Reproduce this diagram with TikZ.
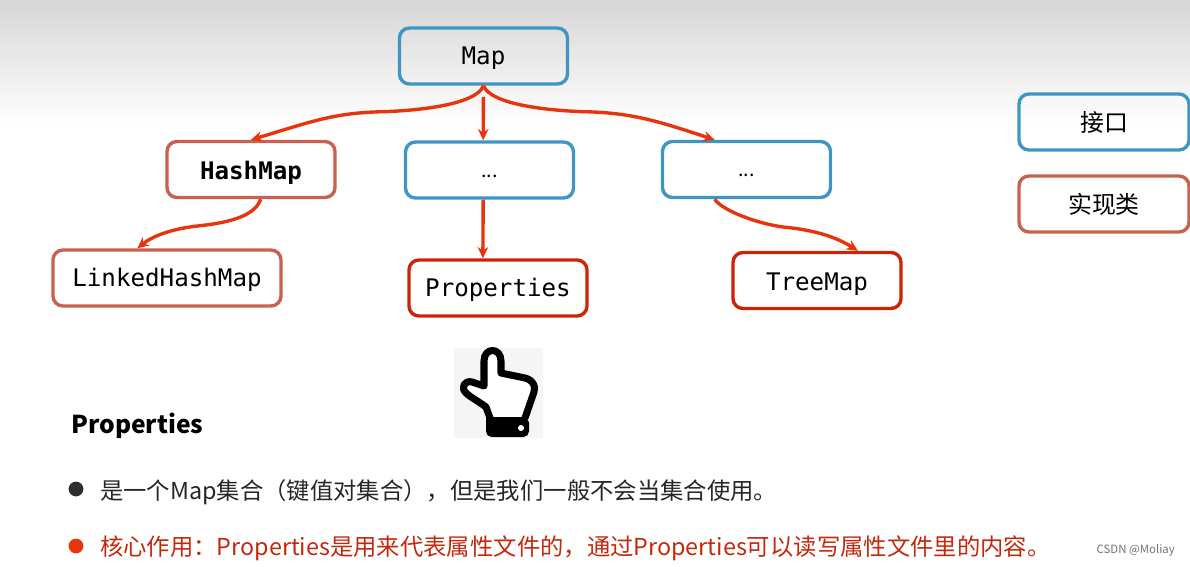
\documentclass[tikz,border=0pt]{standalone}
\usepackage{fontspec}
\setmainfont{Noto Sans CJK SC}
\setmonofont{DejaVu Sans Mono}
\usetikzlibrary{positioning,arrows.meta,calc}
\definecolor{iface}{HTML}{3F95C4}
\definecolor{impl}{HTML}{C8624E}
\definecolor{focus}{HTML}{CC2408}
\definecolor{link}{HTML}{E8340C}
\definecolor{bodyred}{HTML}{C4280C}
\tikzset{
  box/.style={rounded corners=0.25cm, line width=2.4pt, minimum height=1.4cm, align=center, inner sep=0pt},
  ifacebox/.style={box, draw=iface},
  implbox/.style={box, draw=impl},
  focusbox/.style={box, draw=focus},
  code/.style={font=\ttfamily\fontsize{17.2}{20}\selectfont, text height=12pt, text depth=0pt},
  dotstext/.style={font=\fontsize{14}{20}\selectfont, text height=10pt, text depth=0pt},
  legendtext/.style={font=\fontsize{17}{20}\selectfont},
  bodytext/.style={anchor=west, inner sep=0pt, font=\fontsize{16.6}{20}\selectfont},
  bullet/.style={circle, inner sep=0pt, minimum size=0.37cm},
  link/.style={draw=link, line width=2.4pt, -{Stealth[length=8pt,width=7.5pt]}},
}
\begin{document}
\begin{tikzpicture}[x=0.025cm,y=-0.025cm]
\useasboundingbox (0,0) rectangle (1190,566);
% backdrop
\shade[top color=black!16, bottom color=white] (0,0) rectangle (1190,125);
% tree
\node[ifacebox, minimum width=4.2cm, code] (map) at (483.5,56) {Map};
\node[implbox, minimum width=4.2cm, code, font=\ttfamily\bfseries\fontsize{17.2}{20}\selectfont, text height=14pt] (hashmap) at (251,169.5) {HashMap};
\node[ifacebox, minimum width=4.2cm, dotstext] (dotsm) at (489.5,170) {...};
\node[ifacebox, minimum width=4.2cm, dotstext] (dotsr) at (746.5,169.5) {...};
\node[implbox, minimum width=5.7cm, code] (linked) at (167,278) {LinkedHashMap};
\node[focusbox, minimum width=4.45cm, code] (props) at (498,288) {Properties};
\node[focusbox, minimum width=4.2cm, code, text height=14pt] (treemap) at (817,280.5) {TreeMap};
% legend
\node[ifacebox, minimum width=4.25cm, legendtext] (legendiface) at (1104,122) {接口};
\node[implbox, minimum width=4.25cm, legendtext] (legendimpl) at (1104,204) {实现类};
% connectors
\draw[link] (map.south) .. controls +(-8,20) and +(30,-1) .. ++(-100,26) .. controls +(-50,1) and +(60,-18) .. (hashmap.north);
\draw[link, shorten <=8pt] (map.south) -- (dotsm.102);
\draw[link] (map.south) .. controls +(8,20) and +(-30,-1) .. ++(100,26) .. controls +(50,1) and +(-55,-18) .. (dotsr.137);
\draw[link] (hashmap.-72) .. controls +(-6,18) and +(30,-3) .. ++(-65,27) .. controls +(-25,3) and +(15,-12) .. (linked.135);
\draw[link] (dotsm.-102) -- (props.117.6);
\draw[link] (dotsr.-137) .. controls +(8,12) and +(-25,-3) .. ++(70,28) .. controls +(30,3) and +(-22,-14) .. (treemap.36);
% hand
\fill[black!4] (454,348) rectangle (543,438);
\draw[fill=white, line width=5pt, line join=round] (490,418) -- (486,407) .. controls (478,401) and (470,397) .. (466,393) .. controls (460,387) and (465,380) .. (472,382) -- (484,386) -- (484,361) .. controls (484,347) and (501,347) .. (501,361) -- (501,373) -- (525,378) .. controls (533,380) and (536,386) .. (534,392) -- (525,418);
\fill[black] (486,417) [rounded corners=4pt] -- (486,437) -- (529,437) -- (529,417) [sharp corners] -- cycle;
\fill[white] (521,428) circle (3);
% description
\node[anchor=west, inner sep=0pt, font=\bfseries\fontsize{17.5}{20}\selectfont] (title) at (71,426) {Properties};
\node[bullet, fill=black!82] (bulleta) at (76,489) {};
\node[bodytext, text=black!85] (linea) at (100,492) {是一个Map集合（键值对集合），但是我们一般不会当集合使用。};
\node[bullet, fill=link] (bulletb) at (76,546) {};
\node[bodytext, text=bodyred] (lineb) at (100,548) {核心作用：Properties是用来代表属性文件的，通过Properties可以读写属性文件里的内容。};
\node[anchor=east, inner sep=0pt, text=black!55, font=\fontsize{8.1}{9}\selectfont] (mark) at (1175,550) {CSDN @Moliay};
\end{tikzpicture}
\end{document}
